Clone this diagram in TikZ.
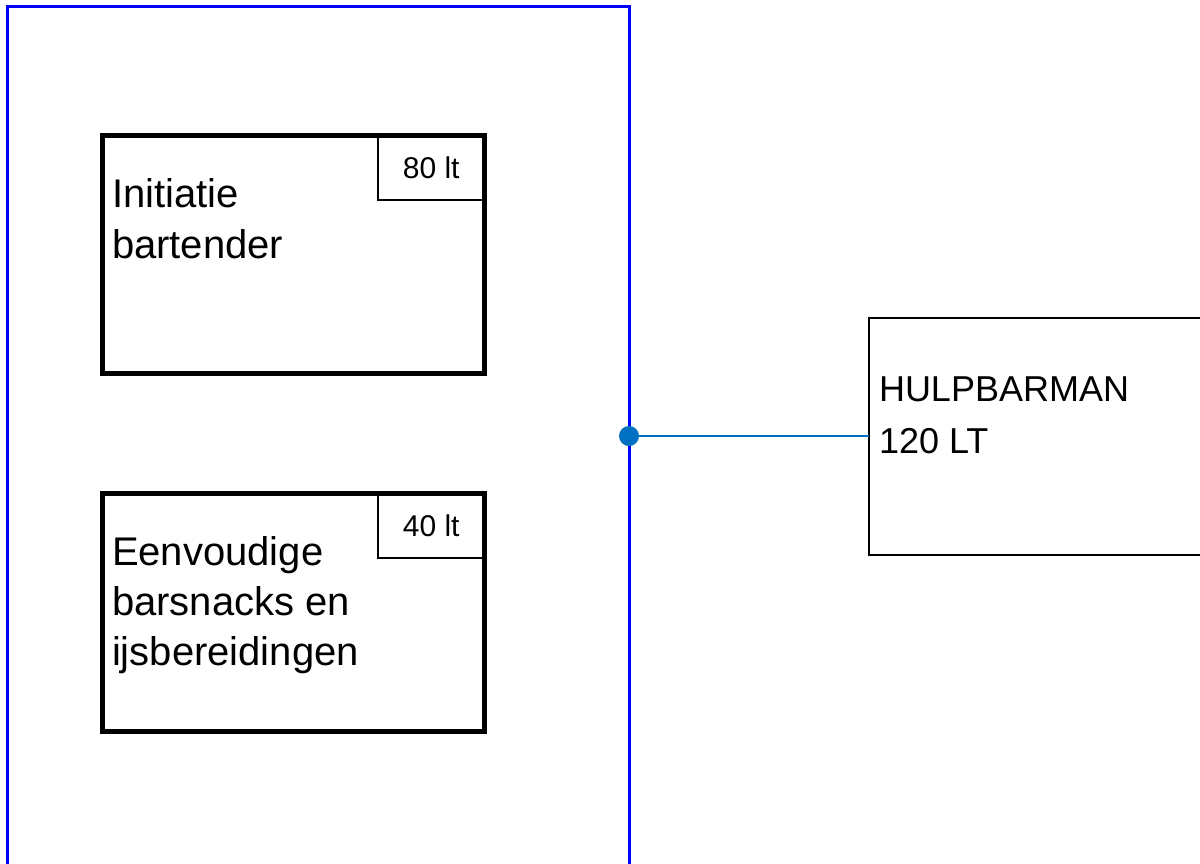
\documentclass[tikz,border=0pt]{standalone}
\usepackage{fontspec}
\setmainfont{Liberation Sans}
\definecolor{frameblue}{RGB}{0,0,255}
\definecolor{linkblue}{RGB}{0,112,192}
\begin{document}
\begin{tikzpicture}[x=1pt,y=-1pt,
  every node/.style={outer sep=0pt},
  course/.style={draw=black,line width=4.5pt,minimum width=382pt,minimum height=238pt,inner sep=0pt},
  tag/.style={draw=black,line width=2pt,minimum width=106.5pt,minimum height=64.5pt,inner sep=0pt,font=\fontsize{30}{34}\selectfont},
  label/.style={anchor=base west,inner sep=0pt,font=\fontsize{40}{46}\selectfont},
  rolelabel/.style={anchor=base west,inner sep=0pt,font=\fontsize{36}{42}\selectfont},
  role/.style={draw=black,line width=2pt,minimum width=360pt,minimum height=237pt,inner sep=0pt},
  link/.style={draw=linkblue,line width=2.4pt}]
\useasboundingbox (0,0) rectangle (1200,863);
\begin{scope}
\clip (0,0) rectangle (1200,863);
% programme frame, running off the bottom edge
\draw[frameblue,line width=3pt] (7.5,900) -- (7.5,6.5) -- (629,6.5) -- (629,900);
% role box, running off the right edge
\node[role,anchor=north west] (hulp) at (869,318) {};
\end{scope}
% course blocks
\node[course,anchor=north west] (c1) at (102.5,135.5) {};
\node[tag,anchor=north east] (t1) at (c1.north east) {80 lt};
\node[label] (l1a) at (112,207) {Initiatie};
\node[label] (l1b) at (112,258) {bartender};
\node[course,anchor=north west] (c2) at (102.5,493.5) {};
\node[tag,anchor=north east] (t2) at (c2.north east) {40 lt};
\node[label] (l2a) at (112,565) {Eenvoudige};
\node[label] (l2b) at (112,615) {barsnacks en};
\node[label] (l2c) at (112,665) {ijsbereidingen};
% role text
\node[rolelabel] (r1) at (879,401) {HULPBARMAN};
\node[rolelabel] (r2) at (879,453) {120 LT};
% connector
\coordinate (joint) at (629,436);
\draw[link] (joint) -- (hulp.west |- joint);
\fill[linkblue] (joint) circle (10);
\end{tikzpicture}
\end{document}
